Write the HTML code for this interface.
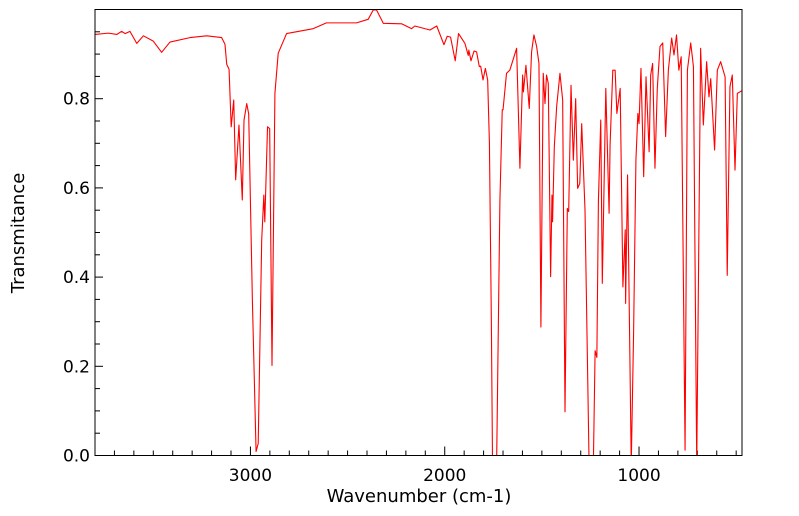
<!DOCTYPE html>
<html><head><meta charset="utf-8"><style>
body{margin:0;background:#fff;}
svg{display:block;font-family:"DejaVu Sans","Liberation Sans",sans-serif;}
</style></head><body>
<svg id="chart" width="799" height="516">
<defs><clipPath id="clip"><rect x="95" y="9.5" width="647" height="446"/></clipPath></defs>
<g id="grid-ticks"></g>
<path id="spectrum" fill="none" stroke="#ff0000" stroke-width="1.1" stroke-linejoin="round" clip-path="url(#clip)"/>
<rect x="95" y="9.5" width="647" height="446" fill="none" stroke="#000" stroke-width="1"/>
<text x="419" y="502" font-size="18" text-anchor="middle">Wavenumber (cm-1)</text>
<text x="0" y="0" font-size="18" text-anchor="middle" transform="translate(24,233) rotate(-90)">Transmitance</text>
</svg>
<script>
const wavenumbers = [3800,3731,3688,3663,3645,3620,3585,3551,3500,3457,3414,3311,3225,3148,3131,3122,3110,3099,3086,3076,3059,3042,3033,3019,3009,2990,2971,2960,2942,2931,2926,2912,2901,2889,2874,2857,2814,2677,2609,2454,2394,2368,2351,2316,2222,2171,2154,2076,2041,2004,1987,1970,1946,1929,1896,1879,1876,1865,1849,1836,1822,1815,1803,1791,1779,1770,1760,1754,1733,1716,1704,1700,1682,1665,1630,1613,1599,1595,1582,1565,1553,1541,1527,1515,1505,1493,1484,1476,1467,1455,1448,1445,1436,1424,1407,1393,1381,1369,1362,1350,1338,1326,1316,1305,1295,1278,1257,1235,1226,1217,1209,1197,1189,1171,1154,1149,1135,1123,1114,1097,1083,1071,1069,1059,1040,1028,1016,1006,1000,990,976,964,948,940,930,918,906,892,878,863,849,832,820,807,795,783,763,751,734,720,703,683,669,652,640,631,611,597,580,557,546,532,520,506,494,470];
const transmittance = [0.944,0.947,0.944,0.951,0.946,0.951,0.924,0.941,0.929,0.904,0.927,0.937,0.941,0.937,0.922,0.877,0.866,0.737,0.797,0.618,0.741,0.573,0.752,0.789,0.766,0.348,0.009,0.027,0.483,0.584,0.524,0.737,0.733,0.202,0.812,0.902,0.946,0.957,0.970,0.970,0.978,0.999,0.999,0.969,0.968,0.957,0.963,0.954,0.963,0.921,0.940,0.938,0.885,0.946,0.924,0.897,0.909,0.885,0.907,0.905,0.872,0.873,0.842,0.868,0.842,0.70,0.30,-0.02,-0.02,0.572,0.775,0.775,0.857,0.864,0.913,0.644,0.853,0.815,0.875,0.778,0.905,0.943,0.917,0.879,0.288,0.857,0.789,0.853,0.834,0.401,0.584,0.524,0.692,0.782,0.857,0.797,0.098,0.554,0.547,0.830,0.662,0.800,0.599,0.610,0.744,0.550,-0.02,-0.02,0.235,0.220,0.572,0.752,0.386,0.823,0.543,0.696,0.864,0.864,0.767,0.823,0.378,0.506,0.341,0.629,-0.02,0.273,0.662,0.767,0.744,0.868,0.625,0.849,0.681,0.853,0.879,0.644,0.823,0.917,0.925,0.715,0.864,0.936,0.898,0.943,0.864,0.894,0.012,0.864,0.925,0.872,-0.02,0.913,0.741,0.883,0.804,0.845,0.685,0.864,0.883,0.849,0.404,0.827,0.853,0.640,0.812,0.818];
const xTickLabels = [3000,2000,1000];
const yTickLabels = [0.0,0.2,0.4,0.6,0.8];
const xDomain = [3800,470];
const yDomain = [0,1];

const L=95,R=742,T=9.5,B=455.5;
function xs(v){return L+(xDomain[0]-v)/(xDomain[0]-xDomain[1])*(R-L);}
function ys(v){return B-(v-yDomain[0])/(yDomain[1]-yDomain[0])*(B-T);}
const NS="http://www.w3.org/2000/svg";
const g=document.getElementById('grid-ticks');
function line(x1,y1,x2,y2,name){
  const l=document.createElementNS(NS,'line');
  l.setAttribute('x1',x1);l.setAttribute('y1',y1);l.setAttribute('x2',x2);l.setAttribute('y2',y2);
  l.setAttribute('stroke','#000');l.setAttribute('stroke-width','1');
  
  
  g.appendChild(l);
}
function text(x,y,s,anchor,name){
  const t=document.createElementNS(NS,'text');
  t.setAttribute('x',x);t.setAttribute('y',y);t.setAttribute('font-size','17');t.setAttribute('text-anchor',anchor);
  t.textContent=s;
  
  
  g.appendChild(t);
}
for(let w=3800;w>=500;w-=100){
  const x=xs(w);const major=(w%1000===0);
  line(x,B,x,B-(major?9:5),'x-tick');
}
xTickLabels.forEach(v=>text(xs(v),481,String(v),'middle','x-tick-label'));
for(let i=0;i<=19;i++){
  const v=i*0.05;const y=ys(v);const major=(i%4===0);
  line(L,y,L+(major?8:5),y,'y-tick');
}
yTickLabels.forEach(v=>text(L-5,ys(v)+6,v.toFixed(1),'end','y-tick-label'));
let d='';
wavenumbers.forEach((w,i)=>{d+=(i?'L':'M')+xs(w).toFixed(2)+','+ys(transmittance[i]).toFixed(2);});
document.getElementById('spectrum').setAttribute('d',d);
</script>
</body></html>
